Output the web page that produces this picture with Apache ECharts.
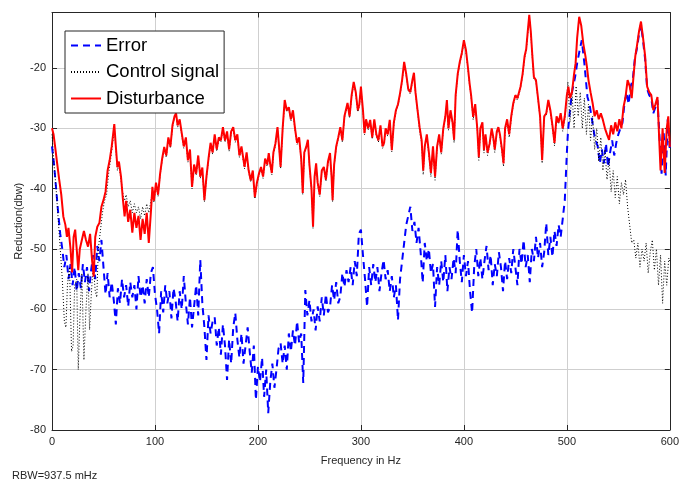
<!DOCTYPE html>
<html>
<head>
<meta charset="utf-8">
<script src="https://cdn.jsdelivr.net/npm/echarts@6/dist/echarts.min.js"></script>
<style>
  html, body { margin: 0; padding: 0; background: #ffffff; }
  #chart { width: 682px; height: 482px; }
</style>
</head>
<body>
<div id="chart"></div>
<script>
// x ticks (Hz) and y ticks (dBW)
const xTicks = [0, 100, 200, 300, 400, 500, 600];
const yTicks = [-80, -70, -60, -50, -40, -30, -20];

// [frequency Hz, reduction dBW]
const errorData = [
  [0,-33],[2,-36],[4,-40],[6,-44],[8,-47.5],[10,-50],[12,-53],[14,-51],[16,-55],[18,-52.5],
  [20,-56],[22,-53],[24,-57],[26,-54],[28,-56.5],[30,-52.5],[32,-55.5],[34,-53],[36,-57],[38,-53.5],
  [40,-51],[42,-55],[44,-49.5],[46,-52],[48,-48.5],[50,-53],[52,-57.5],[54,-54],[56,-58],[58,-55.5],
  [60,-58.5],[62,-62.5],[64,-56.5],[66,-59],[68,-55],[70,-58],[72,-56],[74,-59.5],[76,-55.5],[78,-58],
  [80,-56],[82,-60],[84,-54.5],[86,-58],[88,-56],[90,-59],[92,-55],[94,-58],[96,-54],[98,-53],
  [100,-57.5],[102,-60],[104,-64],[106,-57],[108,-60.5],[110,-56],[112,-59],[114,-57],[116,-61.5],[118,-56.5],
  [120,-58.5],[122,-62],[124,-57],[126,-60],[128,-54.5],[130,-59],[132,-62.5],[134,-58],[136,-63],[138,-59.5],
  [140,-56],[142,-61],[144,-51.8],[146,-59],[148,-63],[150,-68.4],[152,-61],[154,-64],[156,-62],[158,-61.3],
  [160,-66],[162,-63],[164,-67.5],[166,-62.5],[168,-66],[170,-71.7],[172,-65],[174,-69],[176,-63],[178,-60.6],
  [180,-65],[182,-68],[184,-64],[186,-69],[188,-66],[190,-63],[192,-67],[194,-70.5],[196,-66],[198,-75],
  [200,-69.5],[202,-72],[204,-68],[206,-74.5],[208,-70],[210,-77.2],[212,-72],[214,-69],[216,-73],[218,-70],
  [220,-66.5],[222,-65.6],[224,-69],[226,-66],[228,-70],[230,-64],[232,-67],[234,-63.5],[236,-66],[238,-62],
  [240,-65.5],[242,-64],[244,-72.2],[246,-56.8],[248,-61],[250,-58.5],[252,-62],[254,-60],[256,-63.5],[258,-59.5],
  [260,-62],[262,-58],[264,-61],[266,-57.5],[268,-60.5],[270,-59.6],[272,-56],[274,-58.5],[276,-55.5],[278,-59],
  [280,-57.9],[282,-54],[284,-56.3],[286,-53.5],[288,-55.5],[290,-53],[292,-56],[294,-52],[296,-54.5],[298,-47.5],
  [300,-46.8],[302,-51],[304,-55],[306,-59.6],[308,-53],[310,-56],[312,-52.5],[314,-55.5],[316,-53],[318,-57],
  [320,-54],[322,-51.8],[324,-55],[326,-53.5],[328,-57],[330,-54.5],[332,-58],[334,-56],[336,-61.8],[338,-55],
  [340,-52],[342,-49],[344,-46],[346,-44.5],[348,-43],[350,-47],[352,-45.5],[354,-49],[356,-46.5],[358,-50.5],
  [360,-55.6],[362,-49],[364,-52],[366,-50],[368,-54],[370,-52.5],[372,-59.6],[374,-53],[376,-56],[378,-52],
  [380,-55.5],[382,-51],[384,-57],[386,-53],[388,-55],[390,-51.5],[392,-54],[394,-46.8],[396,-52],[398,-55.5],
  [400,-51],[402,-54.5],[404,-52],[406,-57],[408,-60.6],[410,-53],[412,-50],[414,-54.5],[416,-51.5],[418,-55],
  [420,-52],[422,-49.5],[424,-53.5],[426,-51],[428,-56],[430,-52.5],[432,-54.5],[434,-50.5],[436,-53],[438,-57],
  [440,-52],[442,-55],[444,-51.5],[446,-54],[448,-50],[450,-53],[452,-56],[454,-50],[456,-52.5],[458,-48.5],
  [460,-53],[462,-51],[464,-55.5],[466,-50],[468,-52],[470,-48],[472,-51.5],[474,-49],[476,-53],[478,-50.5],
  [480,-45.7],[482,-51],[484,-48],[486,-51.3],[488,-47],[490,-49.5],[492,-46],[494,-48],[496,-45],[498,-41.9],
  [500,-34.1],[501,-30.8],[503,-27],[505,-24],[508,-21.5],[510,-19.2],[512.5,-17],[514.5,-15.4],[517,-19.2],[520,-24.8],
  [522,-26],[524,-28.1],[527,-31.4],[530,-33],[532,-35.8],[534,-33.5],[536,-35.8],[538,-32.5],[540,-36.4],[542,-34],
  [544,-32],[546,-34.5],[548,-32.4],[550,-31],[552,-30],[554,-29.1],[556,-25.8],[558,-24],[560,-26],[562,-23],
  [564,-22],[566,-18.5],[568,-16.8],[570,-14.5],[572,-12.8],[574,-15.5],[576,-18.5],[578,-23.5],[580,-24.5],[582,-25],
  [584,-27.5],[586,-26.5],[588,-25.3],[590,-31.5],[592,-37.5],[594,-30.5],[596,-37.8],[598,-28.5],[600,-33.5]
];

const controlData = [
  [0,-31],[2,-36],[4,-40],[6,-45],[8,-50],[10,-55],[12,-62],[13.5,-63],[15,-56],[17,-53],
  [19,-67],[20.5,-66],[22,-56],[24,-55],[25.5,-70],[27,-62],[29,-54],[31,-68.4],[33,-60],[35,-54],
  [36.5,-63.4],[38,-58],[40,-52.5],[42,-57],[43.5,-58],[45,-50],[47,-47],[49,-44],[51,-42],[53,-41],
  [55,-37.5],[57,-35],[58.5,-33],[60.5,-30],[62,-33.5],[63.5,-37],[65,-36],[67,-38.5],[69,-41],[70.5,-42],
  [72,-41],[74,-43],[76,-42],[78,-44],[80,-42.5],[82,-44],[84,-43],[86,-45],[88,-43],[90,-44.5],
  [92,-42.5],[94,-44],[96,-42],[97.5,-40.5],[99,-42.3],[101,-39.5],[103,-41.3],[105,-37.8],[107,-35.3],[109,-33.5],
  [111,-34.8],[113,-31.8],[115,-33.3],[117,-29.8],[119,-28.3],[120.5,-27.8],[122,-29.8],[124,-28.8],[126,-31.2],[128,-33.3],
  [130,-31.8],[132,-35.6],[134,-33.8],[136,-40],[138,-36.3],[140,-37.8],[142,-34.8],[144,-38.3],[146,-36.8],[148,-42.2],
  [150,-38.3],[152,-35.3],[154,-32.7],[156,-34.3],[158,-31.3],[160,-33.8],[162,-31.8],[164,-32.3],[166,-30.1],[168,-32.3],
  [170,-30.8],[172,-33.8],[174,-30.8],[176,-30.1],[178,-32.3],[180,-31.3],[182,-34.8],[184,-33.3],[187,-36.7],[189,-34.3],
  [191,-37.3],[193,-38.9],[195,-37.3],[197,-41.7],[199,-39.3],[201,-37.8],[203,-36.7],[205,-38.3],[207,-35.3],[209,-36.3],
  [210.5,-34.4],[212,-36.3],[213.5,-37.7],[215,-34.3],[217,-32.8],[219,-30.1],[220.5,-33.3],[222,-36.7],[224,-30.3],[226,-25.6],
  [228,-27.3],[230,-26.8],[232,-28.8],[234,-27.3],[236,-30.3],[238,-32.7],[240,-31.8],[242,-35.3],[243.5,-41],[245,-34.3],
  [247,-33.3],[248.5,-32.2],[250,-36.3],[252,-40.3],[253.5,-46.6],[255,-38.3],[256.5,-36.1],[258,-39.3],[260,-41.3],[262,-37.3],
  [264,-36.7],[266,-38.8],[268,-35.8],[270,-34.4],[271.5,-38.3],[272.5,-42.2],[274,-36.3],[276,-33.3],[278,-31.8],[280,-30.1],
  [282,-32.3],[284,-28.3],[287,-26.1],[289,-28.3],[291,-24.8],[293,-22.6],[295,-24.3],[297,-27.3],[298.5,-26.3],[300,-23.4],
  [302,-27.3],[303.5,-31.1],[305,-28.8],[307,-30.3],[309,-28.9],[311,-31.8],[313,-28.8],[315,-31.3],[317,-32.3],[319,-29.8],
  [321,-33.3],[322.5,-32.7],[324,-30.3],[326,-31.3],[328,-28.9],[330,-33.9],[332,-29.3],[334,-27.3],[336,-26.3],[338,-24.5],
  [340,-22.3],[342,-19.3],[344,-21.3],[346,-23.8],[348,-24.3],[350,-22.3],[351.5,-21.1],[353,-24.3],[355,-27.3],[357,-30.5],
  [359,-32.5],[360.5,-37.7],[362,-33.3],[364,-31.3],[366,-34.5],[368,-38],[370,-33.3],[372,-38.6],[374,-33.3],[376,-31.3],
  [378,-34.3],[380,-30.3],[382,-28.3],[383.5,-25.6],[385,-30.3],[387,-27.3],[389,-29.3],[390.5,-32.4],[392,-24.8],[394,-21.3],
  [396,-19.3],[398,-17.8],[400,-15.7],[402,-17.3],[404,-20.3],[405.5,-22.8],[407,-24.8],[409,-28.6],[411,-26.3],[413,-30.3],
  [414.5,-35.3],[416,-30.3],[418,-29.3],[419.5,-34.1],[421,-31.3],[423,-34.5],[425,-32.8],[427,-30.3],[428.5,-31.9],[430,-34],
  [432,-30.8],[433.5,-30.1],[435,-31.3],[437,-34],[438.5,-36.3],[440,-30.3],[442,-28.8],[444,-31.5],[446,-28.3],[448,-26.1],
  [450,-24.8],[452,-25.3],[455,-23.4],[457,-21.3],[459,-18.3],[460.5,-17.2],[462,-14.3],[463.5,-11.5],[465,-14.3],[466.5,-18.3],
  [468,-21.8],[470,-22.3],[472,-25.3],[474,-28.3],[476,-35.8],[478,-28.3],[480,-27.8],[482,-25.6],[484,-27.3],[486,-29.8],
  [488,-32.9],[490,-28.3],[492,-29.3],[494,-27.8],[496,-30.5],[498,-28.5],[499,-27],[501,-22.3],[503,-29],[505,-24],
  [507,-30],[509,-23],[511,-28],[513,-24],[515,-30],[517,-25],[519,-31],[521,-26],[523,-32],[525,-28],
  [527,-33.5],[529,-30],[531,-35.5],[533,-31.5],[535,-37],[537,-33.5],[539,-38.5],[541,-35],[543,-40.5],[545,-37],
  [547,-41.5],[549,-38],[551,-42.5],[553,-39],[555,-41],[557,-38.5],[559,-43],[561,-46],[563,-49],[565,-48.5],
  [567,-51.5],[569,-49],[571,-53],[573,-50],[575,-52],[577,-49],[579,-54],[581,-50.5],[583,-48.5],[585,-53.5],
  [587,-50],[589,-56],[591,-51],[593,-59],[595,-52],[597,-56],[599,-51.5],[600,-52]
];

const disturbanceData = [
  [0,-30],[1.5,-31],[3,-33],[5,-35.8],[7,-38.5],[9,-41],[11,-44.6],[13,-46],[14.5,-48],[16,-46.5],
  [18,-50],[19.5,-53.9],[21,-48],[22.5,-46.8],[24,-50],[25.5,-53.5],[27,-50],[29,-48.5],[31,-47],[33,-48.5],
  [35,-49.6],[37,-47.5],[39,-52],[40.5,-54.6],[42,-48],[44,-46.3],[46,-45.7],[48,-43],[50,-41.9],[52,-40.5],
  [54,-37],[56,-35.3],[58,-33],[60.5,-29.3],[62,-33],[63.5,-36.4],[65,-35.5],[67,-38],[69,-42],[70.5,-44.6],
  [72,-42],[74,-45.5],[76,-43.5],[78,-47.3],[80,-44],[82,-46.5],[84,-44.5],[86,-48.5],[88,-45],[90,-47.5],
  [92,-44],[94,-49],[96,-44],[97.5,-39.7],[99,-42],[101,-39],[103,-41],[105,-37.5],[107,-35],[109,-33.1],
  [111,-34.5],[113,-31.5],[115,-33],[117,-29.5],[119,-28],[120.5,-27.5],[122,-29.5],[124,-28.5],[126,-30.8],[128,-33],
  [130,-31.5],[132,-35.3],[134,-33.5],[136,-39.7],[138,-36],[140,-37.5],[142,-34.5],[144,-38],[146,-36.5],[148,-41.9],
  [150,-38],[152,-35],[154,-32.4],[156,-34],[158,-31],[160,-33.5],[162,-31.5],[164,-32],[166,-29.8],[168,-32],
  [170,-30.5],[172,-33.5],[174,-30.5],[176,-29.8],[178,-32],[180,-31],[182,-34.5],[184,-33],[187,-36.4],[189,-34],
  [191,-37],[193,-38.6],[195,-37],[197,-41.4],[199,-39],[201,-37.5],[203,-36.4],[205,-38],[207,-35],[209,-36],
  [210.5,-34.1],[212,-36],[213.5,-37.4],[215,-34],[217,-32.5],[219,-29.8],[220.5,-33],[222,-36.4],[224,-30],[226,-25.3],
  [228,-27],[230,-26.5],[232,-28.5],[234,-27],[236,-30],[238,-32.4],[240,-31.5],[242,-35],[243.5,-40.7],[245,-34],
  [247,-33],[248.5,-31.9],[250,-36],[252,-40],[253.5,-46.3],[255,-38],[256.5,-35.8],[258,-39],[260,-41],[262,-37],
  [264,-36.4],[266,-38.5],[268,-35.5],[270,-34.1],[271.5,-38],[272.5,-41.9],[274,-36],[276,-33],[278,-31.5],[280,-29.8],
  [282,-32],[284,-28],[287,-25.8],[289,-28],[291,-24.5],[293,-22.3],[295,-24],[297,-27],[298.5,-26],[300,-23.1],
  [302,-27],[303.5,-30.8],[305,-28.5],[307,-30],[309,-28.6],[311,-31.5],[313,-28.5],[315,-31],[317,-32],[319,-29.5],
  [321,-33],[322.5,-32.4],[324,-30],[326,-31],[328,-28.6],[330,-33.6],[332,-29],[334,-27],[336,-26],[338,-24.2],
  [340,-22],[342,-19],[344,-21],[346,-23.5],[348,-24],[350,-22],[351.5,-20.8],[353,-24],[355,-27],[357,-29.8],
  [359,-32],[360.5,-37],[362,-33],[364,-31],[366,-34],[368,-37.4],[370,-33],[372,-38],[374,-33],[376,-31],
  [378,-34],[380,-30],[382,-28],[383.5,-25.3],[385,-30],[387,-27],[389,-29],[390.5,-31.9],[392,-24.5],[394,-21],
  [396,-19],[398,-17.5],[400,-15.4],[402,-17],[404,-20],[405.5,-22.5],[407,-24.5],[409,-28.1],[411,-26],[413,-30],
  [414.5,-34.8],[416,-30],[418,-29],[419.5,-33.6],[421,-31],[423,-34],[425,-32.5],[427,-30],[428.5,-31.4],[430,-33.5],
  [432,-30.5],[433.5,-29.8],[435,-31],[437,-33.5],[438.5,-35.8],[440,-30],[442,-28.5],[444,-31],[446,-28],[448,-25.8],
  [450,-24.5],[452,-25],[455,-23.1],[457,-21],[459,-18],[460.5,-16.9],[462,-14],[463.5,-11.2],[465,-14],[466.5,-18],
  [468,-21.5],[470,-22],[472,-25],[474,-28],[476,-35.3],[478,-28],[480,-27.5],[482,-25.3],[484,-27],[486,-29.5],
  [488,-32.4],[490,-28],[492,-29],[494,-27.5],[496,-30],[498,-28],[500,-24.5],[501.5,-23.1],[503,-25],[505,-24],
  [507,-21],[508.5,-19.2],[510,-15],[512,-11.5],[514,-13],[516,-16],[518,-18],[519.5,-19.8],[521,-22],[523,-24],
  [525,-25.8],[527,-28],[529,-27],[531,-28.5],[533,-27.5],[535,-28.6],[537,-30],[539,-31],[541,-31.9],[543,-29.5],
  [545,-31],[547,-29],[549,-30.5],[551,-28.5],[553,-30],[555,-26.5],[557,-24.8],[559,-22],[561,-23],[563,-25],
  [565,-20.8],[566.5,-18],[568,-16.4],[570,-14],[572,-12.3],[574,-15],[576,-18],[578,-23.1],[580,-24],[582,-24.5],
  [584,-27],[586,-26],[588,-24.8],[589.5,-31],[591,-37],[593,-30],[595,-37.4],[597,-30],[598.5,-28],[600,-33.1]
];

const fontFamily = '"Liberation Sans", Arial, Helvetica, sans-serif';
const inkColor = '#262626';

const chart = echarts.init(document.getElementById('chart'));

const baseX = {
  type: 'value',
  min: xTicks[0],
  max: xTicks[xTicks.length - 1],
  interval: 100,
  axisLine: { show: true, onZero: false, lineStyle: { color: inkColor, width: 1 } },
  axisTick: { show: true, inside: true, length: 5, lineStyle: { color: inkColor } }
};
const baseY = {
  type: 'value',
  min: yTicks[0],
  max: -10.8,
  interval: 10,
  axisLine: { show: true, onZero: false, lineStyle: { color: inkColor, width: 1 } },
  axisTick: { show: true, inside: true, length: 5, lineStyle: { color: inkColor } }
};

let option = {
  animation: false,
  backgroundColor: '#ffffff',
  textStyle: { fontFamily: fontFamily },
  grid: { left: 52, right: 6, top: 12.5, bottom: 52, containLabel: false },
  legend: {
    orient: 'vertical',
    left: 65,
    top: 31,
    padding: [5, 5, 5, 5],
    itemGap: 7.5,
    itemWidth: 30,
    itemHeight: 14,
    backgroundColor: '#ffffff',
    borderColor: inkColor,
    borderWidth: 1,
    borderRadius: 0,
    itemStyle: { opacity: 0 },
    textStyle: { fontSize: 18.5, color: '#000000', fontFamily: fontFamily },
    data: ['Error', 'Control signal', 'Disturbance']
  },
  xAxis: [
    Object.assign({}, baseX, {
      position: 'bottom',
      name: 'Frequency in Hz',
      nameLocation: 'middle',
      nameGap: 25,
      nameTextStyle: { fontSize: 11, color: inkColor },
      axisLabel: { fontSize: 11, color: inkColor, margin: 6 },
      splitLine: { show: true, lineStyle: { color: '#cfcfcf', width: 1 } }
    }),
    Object.assign({}, baseX, {
      position: 'top',
      axisLabel: { show: false },
      splitLine: { show: false }
    })
  ],
  yAxis: [
    Object.assign({}, baseY, {
      position: 'left',
      name: 'Reduction(dbw)',
      nameLocation: 'middle',
      nameGap: 28,
      nameMoveOverlap: false,
      nameTextStyle: { fontSize: 11, color: inkColor },
      axisLabel: {
        fontSize: 11,
        color: inkColor,
        margin: 6,
        formatter: function (v) { return yTicks.indexOf(v) >= 0 ? String(v) : ''; }
      },
      splitLine: { show: true, lineStyle: { color: '#cfcfcf', width: 1 } }
    }),
    Object.assign({}, baseY, {
      position: 'right',
      axisLabel: { show: false },
      splitLine: { show: false }
    })
  ],
  graphic: [
    {
      type: 'text',
      left: 12,
      top: 470,
      style: { text: 'RBW=937.5 mHz', fontSize: 11, fill: inkColor, fontFamily: fontFamily }
    }
  ],
  series: [
    {
      name: 'Error',
      type: 'line',
      data: errorData,
      symbol: 'none',
      lineStyle: { color: '#0000ff', width: 2, type: [7, 5] },
      itemStyle: { color: '#0000ff' }
    },
    {
      name: 'Control signal',
      type: 'line',
      data: controlData,
      symbol: 'none',
      lineStyle: { color: '#000000', width: 1, type: [1, 2] },
      itemStyle: { color: '#000000' }
    },
    {
      name: 'Disturbance',
      type: 'line',
      data: disturbanceData,
      symbol: 'none',
      lineStyle: { color: '#ff0000', width: 2 },
      itemStyle: { color: '#ff0000' }
    }
  ]
};

chart.setOption(option);
</script>
</body>
</html>
